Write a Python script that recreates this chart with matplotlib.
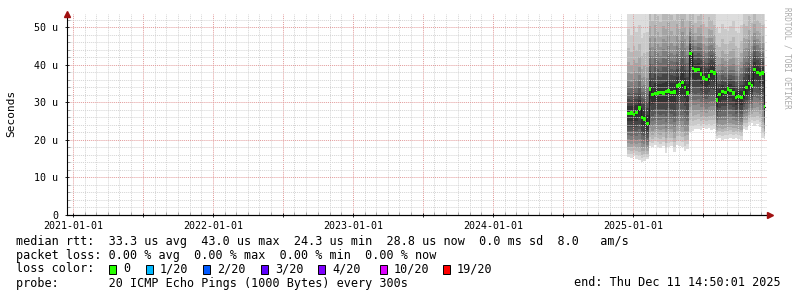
import matplotlib
matplotlib.use("Agg")
import matplotlib.pyplot as plt
import matplotlib.dates as mdates
from matplotlib.patches import Rectangle
from matplotlib.ticker import MultipleLocator, FuncFormatter
import numpy as np
import pandas as pd

# weekly median rtt in microseconds, starting 2024-12-16
median_rtt = [27.0, 27.1, 26.8, 27.2, 28.5, 26.0, 25.5, 24.3,
              33.5, 32.0, 32.3, 32.5, 32.6, 32.5, 32.8, 33.0, 32.6,
              32.7, 34.3, 34.6, 35.2, 34.0, 32.5,
              43.0, 39.0, 38.6, 38.8, 37.5, 36.5, 36.0, 37.0, 38.2, 37.8,
              30.6, 32.0, 32.8, 32.6, 33.5, 33.2, 32.5, 31.2, 31.5, 31.3,
              32.5, 34.0, 35.0, 34.5, 38.8, 38.0, 37.5,
              37.8, 28.8]
# lowest / highest ping of each step (smoke envelope)
ping_lo = [15.4, 15.2, 15.6, 15.0, 14.6, 14.2, 14.5, 14.8,
           18.3, 18.0, 18.5, 18.2, 17.8, 18.4, 16.6, 18.1, 18.3,
           16.8, 18.5, 18.4, 18.0, 17.0, 17.6,
           22.0, 22.4, 22.8, 23.0, 22.6, 23.2, 22.9, 23.1, 22.7, 23.0,
           20.2, 20.4, 19.9, 20.3, 20.1, 20.5, 20.2, 20.6, 20.3, 20.0,
           23.0, 22.6, 24.0, 24.5, 23.8, 24.2, 23.5,
           20.5, 20.3]
ping_hi = [57, 55, 58, 56, 58, 54, 56, 57,
           70, 66, 72, 68, 65, 71, 69, 73, 68,
           66, 70, 67, 72, 69, 66,
           62, 64, 60, 63, 66, 61, 60, 64, 62, 60,
           56, 54, 57, 55, 54, 56, 58, 55, 54, 57,
           64, 62, 66, 63, 65, 62, 61,
           60, 58]
first_week = "2024-12-16"
last_update = "2025-12-11 14:50:01"

# share of the envelope reached by each smoke layer (outer -> inner)
lower_share = [1.0, 0.92, 0.84, 0.76, 0.68, 0.59, 0.5, 0.4, 0.3, 0.17]
upper_share = [1.0, 0.75, 0.58, 0.46, 0.37, 0.3, 0.24, 0.18, 0.13, 0.07]

loss_labels = ["0", "1/20", "2/20", "3/20", "4/20", "10/20", "19/20"]
loss_colors = ["#26ff00", "#00b8ff", "#0059ff", "#5e00ff", "#7e00ff", "#dd00ff", "#ff0000"]

rtt_line = "median rtt:  33.3 us avg  43.0 us max  24.3 us min  28.8 us now  0.0 ms sd  8.0   am/s"
loss_line = "packet loss: 0.00 % avg  0.00 % max  0.00 % min  0.00 % now"
probe_line = "probe:       20 ICMP Echo Pings (1000 Bytes) every 300s"
end_line = "end: Thu Dec 11 14:50:01 2025"

MONO = "DejaVu Sans Mono"
W, H = 797, 297


def fx(px):
    return px / W


def fy(py):
    return 1 - py / H


dates = list(pd.date_range(first_week, periods=len(median_rtt), freq="7D"))
dates.append(pd.Timestamp(last_update))
x = mdates.date2num(dates)

med = np.array(median_rtt + [median_rtt[-1]])
lo = np.array(ping_lo + [ping_lo[-1]])
hi = np.array(ping_hi + [ping_hi[-1]])

fig = plt.figure(figsize=(W / 100, H / 100), dpi=100)
ax = fig.add_axes([fx(67), fy(215), fx(700), (215 - 13.6) / H])

# smoke, outer layers first
for k in range(10):
    grey = int(190 / 10 * (10 - (k + 1))) + 50
    col = "#%02x%02x%02x" % (grey, grey, grey)
    bot = med - lower_share[k] * (med - lo)
    top = med + upper_share[k] * (hi - med)
    ax.fill_between(x, bot, top, step="post", color=col, lw=0, zorder=1)

ax.step(x, med, where="post", color="#202020", lw=0.8, zorder=3)
ax.fill_between(x, med - 0.45, med + 0.45, step="post", color=loss_colors[0], lw=0, zorder=4)

ax.set_xlim(mdates.date2num(pd.Timestamp("2020-12-15 14:50")),
            mdates.date2num(pd.Timestamp("2025-12-15 14:50")))
ax.set_ylim(0, 53.6)

ax.xaxis.set_major_locator(mdates.MonthLocator(bymonth=[1, 7]))
ax.xaxis.set_minor_locator(mdates.MonthLocator())
ax.xaxis.set_major_formatter(FuncFormatter(
    lambda v, p: mdates.num2date(v).strftime("%Y-%m-%d") if mdates.num2date(v).month == 1 else ""))
ax.yaxis.set_major_locator(MultipleLocator(10))
ax.yaxis.set_minor_locator(MultipleLocator(2))
ax.yaxis.set_major_formatter(FuncFormatter(lambda v, p: "0" if v == 0 else "%d u" % v))

ax.set_axisbelow(False)
ax.grid(which="minor", color="#d4d4d4", ls=(0, (1, 1)), lw=0.7, zorder=2)
ax.grid(which="major", color="#e29a9a", ls=(0, (1, 1)), lw=0.7, zorder=2)

for s in ["top", "right"]:
    ax.spines[s].set_visible(False)
for s in ["left", "bottom"]:
    ax.spines[s].set_color("black")
    ax.spines[s].set_linewidth(0.8)
    ax.spines[s].set_zorder(5)

ax.tick_params(which="both", labelsize=7.2, colors="black", width=0.6)
ax.tick_params(which="major", length=3, direction="inout", pad=2)
ax.tick_params(which="minor", length=2, direction="in", color="#999999")
for lab in ax.get_xticklabels() + ax.get_yticklabels():
    lab.set_fontfamily(MONO)
ax.tick_params(axis="y", pad=5)
ax.tick_params(axis="x", pad=3)
ax.set_facecolor("white")

# axis arrows
ax.plot([0], [1.0], marker="^", ms=4, color="#a01010", transform=ax.transAxes, clip_on=False, zorder=6)
ax.plot([1.004], [0], marker=">", ms=4, color="#a01010", transform=ax.transAxes, clip_on=False, zorder=6)
ax.plot([0, 1.004], [0, 0], color="black", lw=0.8, transform=ax.transAxes, clip_on=False, zorder=5)

fig.text(fx(11), fy(113), "Seconds", rotation=90, ha="center", va="center",
         fontsize=8, family=MONO)
fig.text(fx(787), fy(58), "RRDTOOL / TOBI OETIKER", rotation=270, ha="center", va="center",
         fontsize=5.5, family=MONO, color="#aaaaaa")

legend_font = dict(fontsize=8.5, family=MONO, va="center", ha="left")
fig.text(fx(16), fy(241), rtt_line, **legend_font)
fig.text(fx(16), fy(255), loss_line, **legend_font)
fig.text(fx(16), fy(269), "loss color:", **legend_font)
fig.text(fx(16), fy(283), probe_line, **legend_font)
fig.text(fx(781), fy(283), end_line, fontsize=8.5, family=MONO, va="center", ha="right")

box_px = [109, 146, 203, 261, 318, 380, 443]
for bx, lab, col in zip(box_px, loss_labels, loss_colors):
    fig.patches.append(Rectangle((fx(bx), fy(274)), 7 / W, 9 / H, transform=fig.transFigure,
                                 facecolor=col, edgecolor="black", lw=0.7))
    fig.text(fx(bx + 14), fy(269), lab, **legend_font)

fig.savefig("out.png", dpi=100, facecolor="white")
